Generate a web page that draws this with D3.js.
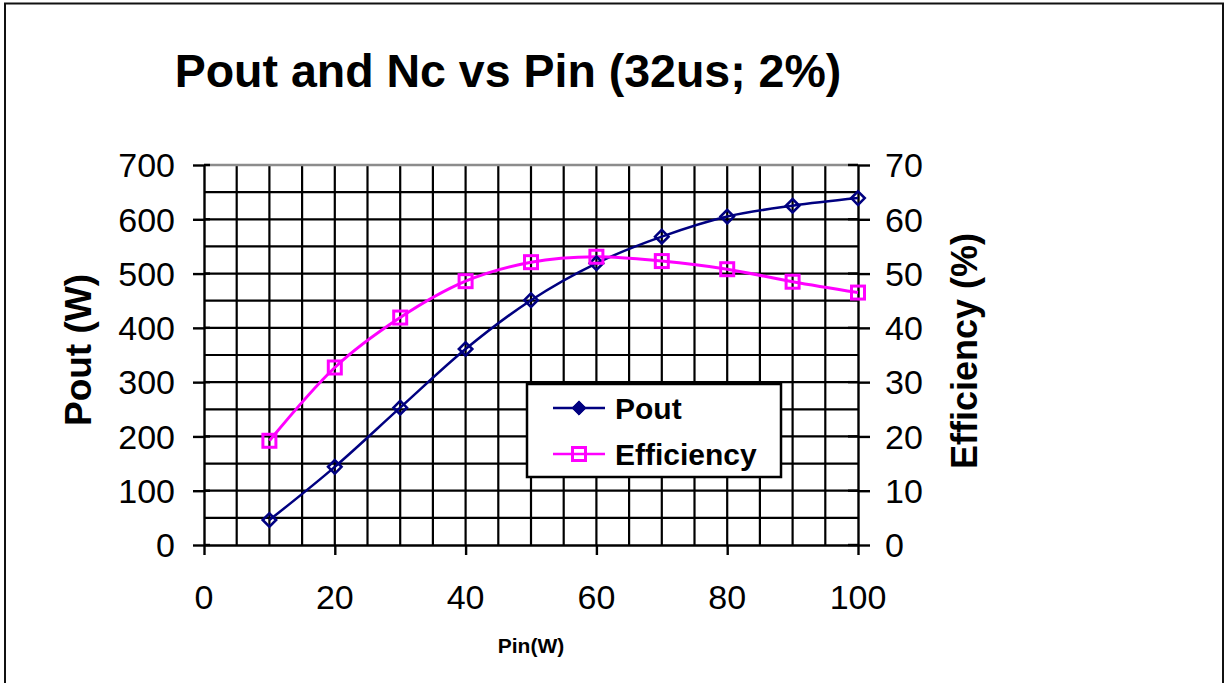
<!DOCTYPE html>
<html><head><meta charset="utf-8">
<script src="https://cdn.jsdelivr.net/npm/d3@7"></script>
<style>html,body{margin:0;padding:0;background:#fff;}svg{display:block;}</style>
</head><body>
<script>
const pinValues = [10,20,30,40,50,60,70,80,90,100];
const poutValues = [46,144,253,361,451,519,568,605,625,639];
const effValues = [19.2,32.7,41.9,48.6,52.1,53.1,52.3,50.8,48.5,46.5];
const xTicks = [0,20,40,60,80,100];
const yLeftTicks = [0,100,200,300,400,500,600,700];
const yRightTicks = [0,10,20,30,40,50,60,70];
const titleText = "Pout and Nc vs Pin (32us; 2%)";
const seriesNames = ["Pout","Efficiency"];

const W=1227,H=683;
const svg=d3.select("body").append("svg").attr("width",W).attr("height",H);
const font="'Liberation Sans', Arial, sans-serif";
svg.append("rect").attr("x",5).attr("y",3.5).attr("width",1218).attr("height",H+10)
  .attr("fill","#fff").attr("stroke","#111").attr("stroke-width",2);

const L=204,R=858,T=165,B=545;
const x=d3.scaleLinear().domain([0,100]).range([L,R]);
const y=d3.scaleLinear().domain([0,700]).range([B,T]);
const yr=d3.scaleLinear().domain([0,70]).range([B,T]);

// gridlines
const g=svg.append("g");
g.selectAll(".vg").data(d3.range(5,100,5)).enter().append("line")
  .attr("x1",d=>x(d)).attr("x2",d=>x(d)).attr("y1",T).attr("y2",B)
  .attr("stroke","#000").attr("stroke-width",2.2);
g.selectAll(".hg").data(d3.range(50,700,50)).enter().append("line")
  .attr("x1",L).attr("x2",R).attr("y1",d=>y(d)).attr("y2",d=>y(d))
  .attr("stroke","#000").attr("stroke-width",2.2);
g.append("line").attr("x1",L).attr("x2",R).attr("y1",T).attr("y2",T).attr("stroke","#8c8c8c").attr("stroke-width",2.5);

// axes
const axL=d3.axisLeft(y).tickValues(yLeftTicks).tickSizeInner(11).tickSizeOuter(0).tickFormat("");
const axR=d3.axisRight(yr).tickValues(yRightTicks).tickSizeInner(12).tickSizeOuter(0).tickFormat("");
const axB=d3.axisBottom(x).tickValues(xTicks).tickSizeInner(10).tickSizeOuter(0).tickFormat("");
function styleAx(sel){sel.selectAll("path,line").attr("stroke","#000").attr("stroke-width",2.4);}
svg.append("g").attr("transform",`translate(${L},0)`).call(axL).call(styleAx);
svg.append("g").attr("transform",`translate(${R},0)`).call(axR).call(styleAx);
svg.append("g").attr("transform",`translate(0,${B})`).call(axB).call(styleAx);
svg.selectAll(".rin").data(yRightTicks).enter().append("line")
  .attr("x1",R-10).attr("x2",R).attr("y1",d=>yr(d)).attr("y2",d=>yr(d)).attr("stroke","#000").attr("stroke-width",2.4);
svg.selectAll(".lin").data(yLeftTicks).enter().append("line")
  .attr("x1",L).attr("x2",L+6).attr("y1",d=>y(d)).attr("y2",d=>y(d)).attr("stroke","#000").attr("stroke-width",2.4);

// tick labels
svg.selectAll(".yl").data(yLeftTicks).enter().append("text")
  .attr("x",175).attr("y",d=>y(d)).attr("dy","0.36em").attr("text-anchor","end")
  .attr("font-family",font).attr("font-size",34).text(d=>d);
svg.selectAll(".yr").data(yRightTicks).enter().append("text")
  .attr("x",885).attr("y",d=>yr(d)).attr("dy","0.36em").attr("text-anchor","start")
  .attr("font-family",font).attr("font-size",34).text(d=>d);
svg.selectAll(".xl").data(xTicks).enter().append("text")
  .attr("x",d=>x(d)).attr("y",609).attr("text-anchor","middle")
  .attr("font-family",font).attr("font-size",34).text(d=>d);

// titles
svg.append("text").attr("x",508).attr("y",87).attr("text-anchor","middle")
  .attr("font-family",font).attr("font-weight","bold").attr("font-size",46.5).text(titleText);
svg.append("text").attr("x",531).attr("y",653).attr("text-anchor","middle")
  .attr("font-family",font).attr("font-weight","bold").attr("font-size",21).text("Pin(W)");
svg.append("text").attr("transform","translate(91,350) rotate(-90)").attr("text-anchor","middle")
  .attr("font-family",font).attr("font-weight","bold").attr("font-size",37).text("Pout (W)");
svg.append("text").attr("transform","translate(977,351) rotate(-90)").attr("text-anchor","middle")
  .attr("font-family",font).attr("font-weight","bold").attr("font-size",36).text("Efficiency (%)");

// series
const navy="#000080",mag="#ff00ff";
const pout=pinValues.map((p,i)=>[p,poutValues[i]]);
const eff=pinValues.map((p,i)=>[p,effValues[i]]);
const curve=d3.curveCatmullRom.alpha(0);
svg.append("path").datum(pout).attr("d",d3.line().x(d=>x(d[0])).y(d=>y(d[1])).curve(curve))
  .attr("fill","none").attr("stroke",navy).attr("stroke-width",2.5);
svg.append("path").datum(eff).attr("d",d3.line().x(d=>x(d[0])).y(d=>yr(d[1])).curve(curve))
  .attr("fill","none").attr("stroke",mag).attr("stroke-width",3);
const dsym=d3.symbol().type(d3.symbolDiamond2).size(115);
svg.selectAll(".pm").data(pout).enter().append("path")
  .attr("d",dsym).attr("transform",d=>`translate(${x(d[0])},${y(d[1])})`)
  .attr("fill","none").attr("stroke",navy).attr("stroke-width",2.6);
svg.selectAll(".em").data(eff).enter().append("rect")
  .attr("x",d=>x(d[0])-6.5).attr("y",d=>yr(d[1])-6.5).attr("width",13).attr("height",13)
  .attr("fill","none").attr("stroke",mag).attr("stroke-width",3);

// legend
const lg=svg.append("g");
lg.append("rect").attr("x",527).attr("y",384).attr("width",254).attr("height",93)
  .attr("fill","#fff").attr("stroke","#000").attr("stroke-width",2.5);
const rows=[{n:seriesNames[0],c:navy,yy:408},{n:seriesNames[1],c:mag,yy:454}];
rows.forEach((r,i)=>{
  lg.append("line").attr("x1",553).attr("x2",605).attr("y1",r.yy).attr("y2",r.yy).attr("stroke",r.c).attr("stroke-width",2.5);
  if(i===0){
    lg.append("path").attr("d",d3.symbol().type(d3.symbolDiamond2).size(130)()).attr("transform",`translate(579,${r.yy})`).attr("fill",navy).attr("stroke",navy).attr("stroke-width",1);
  } else {
    lg.append("rect").attr("x",579-6.5).attr("y",r.yy-6.5).attr("width",13).attr("height",13).attr("fill","none").attr("stroke",mag).attr("stroke-width",3);
  }
  lg.append("text").attr("x",615).attr("y",r.yy).attr("dy","0.36em").attr("font-family",font)
    .attr("font-weight","bold").attr("font-size",30).text(r.n);
});
</script>
</body></html>
